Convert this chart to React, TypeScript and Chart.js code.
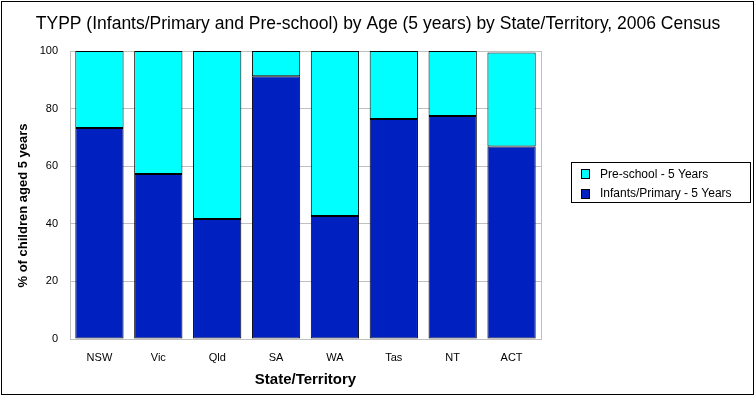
import React, { useEffect, useRef } from "react";
import { Chart, registerables } from "chart.js";

Chart.register(...registerables);

const categories = ["NSW", "Vic", "Qld", "SA", "WA", "Tas", "NT", "ACT"];
const infantsPrimary = [73.3, 57.3, 41.7, 91.2, 42.7, 76.4, 77.4, 66.8];
const preSchool = [26.7, 42.7, 58.3, 8.8, 57.3, 23.6, 22.6, 32.7];
const seriesLabels = ["Infants/Primary - 5 Years", "Pre-school - 5 Years"];
const chartTitle = "TYPP (Infants/Primary and Pre-school) by Age (5 years) by State/Territory, 2006 Census";
const xTitle = "State/Territory";
const yTitle = "% of children aged 5 years";

const FONT = "'Liberation Sans', Arial, sans-serif";
const DARK = "#0020C0";
const CYAN = "#00FFFF";

const framePlugin = {
  id: "frame",
  beforeDatasetsDraw(chart: any) {
    const { ctx, chartArea } = chart;
    ctx.save();
    ctx.strokeStyle = "#c0c0c0";
    ctx.lineWidth = 1;
    ctx.strokeRect(
      Math.round(chartArea.left) + 0.5,
      Math.round(chartArea.top) + 0.5,
      Math.round(chartArea.right - chartArea.left),
      Math.round(chartArea.bottom - chartArea.top)
    );
    ctx.restore();
  },
  afterDraw(chart: any) {
    const { ctx } = chart;
    ctx.save();
    // title
    ctx.fillStyle = "#000";
    ctx.font = `17.5px ${FONT}`;
    ctx.textAlign = "center";
    ctx.textBaseline = "alphabetic";
    ctx.fillText(chartTitle, 378, 29);
    // y axis title
    ctx.save();
    ctx.translate(23, 205.5);
    ctx.rotate(-Math.PI / 2);
    ctx.font = `bold 13px ${FONT}`;
    ctx.textBaseline = "middle";
    ctx.fillText(yTitle, 0, 0);
    ctx.restore();
    // outer border
    ctx.strokeStyle = "#000";
    ctx.lineWidth = 1;
    ctx.strokeRect(1.5, 1.5, 752, 393);
    // legend box
    ctx.strokeRect(571.5, 162.5, 179, 40);
    const ds = chart.data.datasets;
    const order = [1, 0];
    const rowY = [174, 193.5];
    ctx.font = `12px ${FONT}`;
    ctx.textBaseline = "middle";
    ctx.textAlign = "left";
    order.forEach((di, i) => {
      const d = ds[di];
      const y = rowY[i];
      ctx.fillStyle = d.backgroundColor;
      ctx.fillRect(581, Math.round(y - 5), 9, 10);
      ctx.strokeStyle = "#000";
      ctx.strokeRect(581.5, Math.round(y - 5) + 0.5, 8, 9);
      ctx.fillStyle = "#000";
      ctx.fillText(d.label, 600, y + 0.5);
    });
    ctx.restore();
  },
};

export default function App() {
  const ref = useRef<HTMLCanvasElement>(null);
  useEffect(() => {
    document.body.style.margin = "0";
    const chart = new Chart(ref.current as HTMLCanvasElement, {
      type: "bar",
      data: {
        labels: categories,
        datasets: [
          {
            label: seriesLabels[0],
            data: infantsPrimary,
            backgroundColor: DARK,
            borderColor: "#000",
            borderWidth: 1,
            borderSkipped: false,
            categoryPercentage: 1,
            barPercentage: 0.82,
          },
          {
            label: seriesLabels[1],
            data: preSchool,
            backgroundColor: CYAN,
            borderColor: "#000",
            borderWidth: 1,
            borderSkipped: false,
            categoryPercentage: 1,
            barPercentage: 0.82,
          },
        ],
      },
      options: {
        responsive: false,
        animation: false,
        devicePixelRatio: 1,
        layout: { padding: { top: 51, left: 0, right: 214, bottom: 0 } },
        plugins: {
          legend: { display: false },
          tooltip: { enabled: false },
          title: { display: false },
        },
        scales: {
          x: {
            stacked: true,
            grid: { display: false, drawTicks: false },
            border: { display: true, color: "#c0c0c0" },
            ticks: { color: "#000", font: { family: FONT, size: 11 }, padding: 12, maxRotation: 0 },
            title: {
              display: true,
              text: xTitle,
              color: "#000",
              font: { family: FONT, size: 15, weight: "bold" },
              padding: { top: 0, bottom: 7 },
            },
            afterFit: (s: any) => {
              s.height = 57;
            },
          },
          y: {
            stacked: true,
            min: 0,
            max: 100,
            ticks: { stepSize: 20, color: "#000", font: { family: FONT, size: 11 }, padding: 12 },
            grid: { color: "#c0c0c0", drawTicks: false },
            border: { display: true, color: "#c0c0c0" },
            title: { display: false, text: yTitle },
            afterFit: (s: any) => {
              s.width = 70;
            },
          },
        },
      },
      plugins: [framePlugin],
    });
    return () => chart.destroy();
  }, []);
  return (
    <div style={{ width: 755, height: 396, background: "#fff" }}>
      <canvas ref={ref} width={755} height={396} style={{ display: "block" }} />
    </div>
  );
}
